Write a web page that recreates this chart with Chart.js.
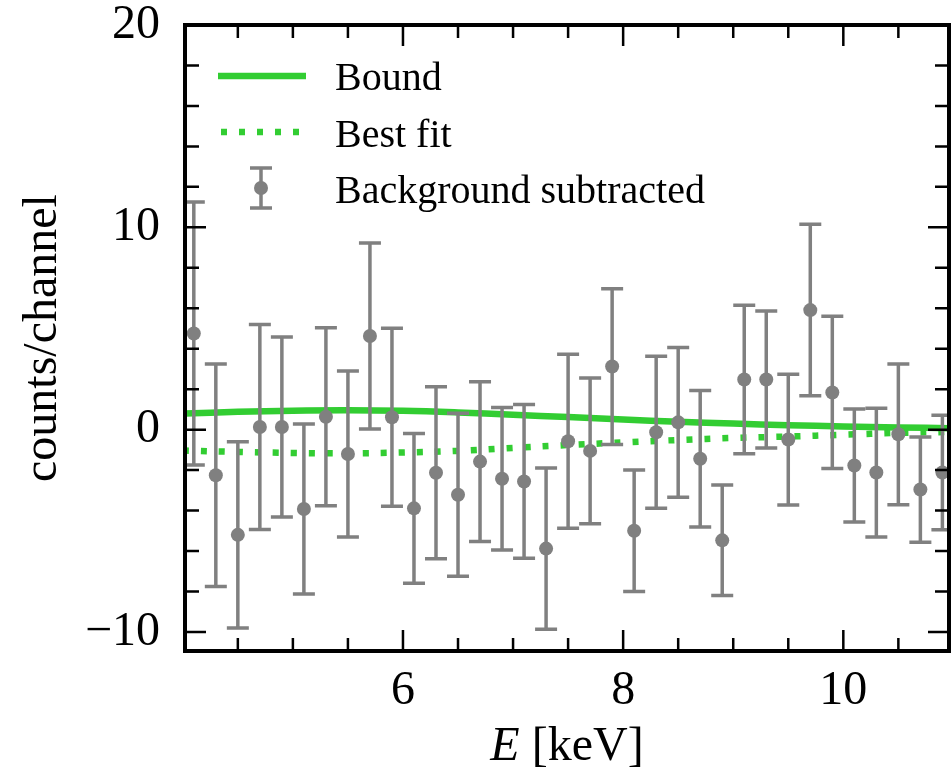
<!DOCTYPE html>
<html>
<head>
<meta charset="utf-8">
<script src="https://cdn.jsdelivr.net/npm/chart.js@4.4.0/dist/chart.umd.min.js"></script>
<style>
  html, body { margin: 0; padding: 0; background: #ffffff; }
  #wrap { width: 951px; height: 777px; }
</style>
</head>
<body>
<div id="wrap"><canvas id="spectrum" width="951" height="777"></canvas></div>
<script>
// --- Data ---
const energy = [4.1, 4.3, 4.5, 4.7, 4.9, 5.1, 5.3, 5.5, 5.7, 5.9, 6.1, 6.3, 6.5, 6.7, 6.9, 7.1, 7.3, 7.5,
                7.7, 7.9, 8.1, 8.3, 8.5, 8.7, 8.9, 9.1, 9.3, 9.5, 9.7, 9.9, 10.1, 10.3, 10.5, 10.7, 10.9];
const counts = [4.75, -2.25, -5.2, 0.13, 0.13, -3.92, 0.64, -1.2, 4.63, 0.61, -3.89, -2.13, -3.22, -1.58,
                -2.43, -2.56, -5.88, -0.57, -1.05, 3.12, -5.0, -0.13, 0.36, -1.44, -5.47, 2.48, 2.48,
                -0.49, 5.91, 1.84, -1.77, -2.12, -0.23, -2.96, -2.12];
const countErr = [6.5, 5.5, 4.6, 5.07, 4.45, 4.2, 4.4, 4.1, 4.6, 4.4, 3.7, 4.25, 4.03, 3.95, 3.52, 3.8,
                  3.98, 4.3, 3.6, 3.85, 3.0, 3.76, 3.7, 3.37, 2.73, 3.67, 3.39, 3.23, 4.24, 3.76, 2.79,
                  3.18, 3.48, 2.6, 2.83];

const modelEnergy = [4.0, 4.5, 5.0, 5.5, 6.0, 6.5, 7.0, 7.5, 8.0, 8.5, 9.0, 9.5, 10.0, 10.5, 11.0];
const boundModel = [0.79, 0.88, 0.94, 0.96, 0.93, 0.85, 0.74, 0.62, 0.5, 0.39, 0.3, 0.22, 0.16, 0.11, 0.07];
const bestFitModel = [-1.03, -1.1, -1.15, -1.17, -1.13, -1.05, -0.9, -0.76, -0.63, -0.51, -0.41, -0.34,
                      -0.25, -0.16, -0.11];

const xMajorTicks = [6, 8, 10];
const xMinorTicks = [4.5, 5, 5.5, 6.5, 7, 7.5, 8.5, 9, 9.5, 10.5];
const yMajorTicks = [-10, 0, 10, 20];
const yMinorTicks = [-8, -6, -4, -2, 2, 4, 6, 8, 12, 14, 16, 18];

const GREEN = '#32cd32';
const GRAY = '#808080';
const SERIF = '"Liberation Serif", "DejaVu Serif", serif';

// --- Frame + inward ticks on all four sides ---
const frameTicks = {
    id: 'frameTicks',
    afterDraw(chart) {
        const { ctx, chartArea: a, scales } = chart;
        ctx.save();
        ctx.strokeStyle = '#000';
        ctx.lineWidth = 2.5;
        const xt = (v, len) => {
            const px = scales.x.getPixelForValue(v);
            ctx.beginPath();
            ctx.moveTo(px, a.bottom); ctx.lineTo(px, a.bottom - len);
            ctx.moveTo(px, a.top); ctx.lineTo(px, a.top + len);
            ctx.stroke();
        };
        const yt = (v, len) => {
            const py = scales.y.getPixelForValue(v);
            ctx.beginPath();
            ctx.moveTo(a.left, py); ctx.lineTo(a.left + len, py);
            ctx.moveTo(a.right, py); ctx.lineTo(a.right - len, py);
            ctx.stroke();
        };
        xMajorTicks.forEach(v => xt(v, 21));
        xMinorTicks.forEach(v => xt(v, 13));
        yMajorTicks.forEach(v => yt(v, 21));
        yMinorTicks.forEach(v => yt(v, 14));
        ctx.lineWidth = 4;
        ctx.strokeRect(a.left, a.top, a.right - a.left, a.bottom - a.top);

        // x axis title with italic E
        const cx = (a.left + a.right) / 2;
        ctx.fillStyle = '#000';
        ctx.textBaseline = 'alphabetic';
        ctx.font = 'italic 48px ' + SERIF;
        const wE = ctx.measureText('E').width;
        ctx.font = '48px ' + SERIF;
        const wRest = ctx.measureText(' [keV]').width;
        const x0 = cx - (wE + wRest) / 2;
        ctx.font = 'italic 48px ' + SERIF;
        ctx.fillText('E', x0, 760);
        ctx.font = '48px ' + SERIF;
        ctx.fillText(' [keV]', x0 + wE, 760);
        ctx.restore();
    }
};

// --- Error bars for the background-subtracted points ---
const errorBars = {
    id: 'errorBars',
    afterDatasetsDraw(chart) {
        const { ctx, chartArea: a, scales } = chart;
        ctx.save();
        ctx.beginPath();
        ctx.rect(a.left, a.top, a.right - a.left, a.bottom - a.top);
        ctx.clip();
        ctx.strokeStyle = GRAY;
        ctx.lineWidth = 3.5;
        energy.forEach((e, i) => {
            const px = scales.x.getPixelForValue(e);
            const top = scales.y.getPixelForValue(counts[i] + countErr[i]);
            const bot = scales.y.getPixelForValue(counts[i] - countErr[i]);
            ctx.beginPath();
            ctx.moveTo(px, top); ctx.lineTo(px, bot);
            ctx.moveTo(px - 11, top); ctx.lineTo(px + 11, top);
            ctx.moveTo(px - 11, bot); ctx.lineTo(px + 11, bot);
            ctx.stroke();
        });
        ctx.restore();
    }
};

// --- Legend drawn in the upper left corner ---
const legendBox = {
    id: 'legendBox',
    afterDraw(chart) {
        const { ctx } = chart;
        ctx.save();
        ctx.lineCap = 'butt';
        // Bound
        ctx.strokeStyle = GREEN;
        ctx.lineWidth = 6.5;
        ctx.beginPath(); ctx.moveTo(218, 76); ctx.lineTo(306, 76); ctx.stroke();
        // Best fit
        ctx.setLineDash([6, 12]);
        ctx.beginPath(); ctx.moveTo(221, 132); ctx.lineTo(306, 132); ctx.stroke();
        ctx.setLineDash([]);
        // Background subtracted
        ctx.strokeStyle = GRAY;
        ctx.lineWidth = 3.5;
        ctx.beginPath();
        ctx.moveTo(261, 168); ctx.lineTo(261, 208);
        ctx.moveTo(250, 168); ctx.lineTo(272, 168);
        ctx.moveTo(250, 208); ctx.lineTo(272, 208);
        ctx.stroke();
        ctx.fillStyle = GRAY;
        ctx.beginPath(); ctx.arc(261, 188, 7, 0, Math.PI * 2); ctx.fill();

        ctx.fillStyle = '#000';
        ctx.font = '40px ' + SERIF;
        ctx.textBaseline = 'alphabetic';
        ctx.fillText('Bound', 335, 90);
        ctx.fillText('Best fit', 335, 146.5);
        ctx.fillText('Background subtracted', 335, 203);
        ctx.restore();
    }
};

const ctx = document.getElementById('spectrum');
new Chart(ctx, {
    type: 'scatter',
    data: {
        datasets: [
            {
                label: 'Background subtracted',
                data: energy.map((e, i) => ({ x: e, y: counts[i] })),
                backgroundColor: GRAY,
                borderColor: GRAY,
                pointRadius: 7,
                pointBorderWidth: 0,
                showLine: false,
                order: 0
            },
            {
                label: 'Best fit',
                data: modelEnergy.map((e, i) => ({ x: e, y: bestFitModel[i] })),
                showLine: true,
                borderColor: GREEN,
                borderWidth: 6.5,
                borderDash: [6, 12],
                borderCapStyle: 'butt',
                pointRadius: 0,
                tension: 0.4,
                order: 1
            },
            {
                label: 'Bound',
                data: modelEnergy.map((e, i) => ({ x: e, y: boundModel[i] })),
                showLine: true,
                borderColor: GREEN,
                borderWidth: 6.5,
                pointRadius: 0,
                tension: 0.4,
                order: 2
            }
        ]
    },
    options: {
        responsive: false,
        animation: false,
        devicePixelRatio: 1,
        layout: { autoPadding: false, padding: { top: 25, right: 2, left: 0, bottom: 0 } },
        plugins: {
            legend: { display: false },
            tooltip: { enabled: false }
        },
        scales: {
            x: {
                type: 'linear',
                min: 4.02,
                max: 10.96,
                grid: { display: false, drawTicks: false },
                border: { display: false },
                afterBuildTicks: s => { s.ticks = xMajorTicks.map(v => ({ value: v })); },
                afterFit: s => { s.height = 126; s.paddingLeft = 0; s.paddingRight = 0; },
                ticks: {
                    autoSkip: false,
                    maxRotation: 0,
                    padding: 16,
                    color: '#000',
                    font: { family: SERIF, size: 48, lineHeight: 1 },
                    callback: v => String(v)
                }
            },
            y: {
                type: 'linear',
                min: -10.94,
                max: 20,
                grid: { display: false, drawTicks: false },
                border: { display: false },
                afterBuildTicks: s => { s.ticks = yMajorTicks.map(v => ({ value: v })); },
                afterFit: s => { s.width = 185; s.paddingTop = 0; s.paddingBottom = 0; },
                ticks: {
                    padding: 25,
                    color: '#000',
                    font: { family: SERIF, size: 48, lineHeight: 1 },
                    callback: v => (v < 0 ? '\u2212' + Math.abs(v) : String(v))
                },
                title: {
                    display: true,
                    text: 'counts/channel',
                    color: '#000',
                    font: { family: SERIF, size: 48 },
                    padding: { top: 15, bottom: 0 }
                }
            }
        }
    },
    plugins: [errorBars, frameTicks, legendBox]
});
</script>
</body>
</html>
